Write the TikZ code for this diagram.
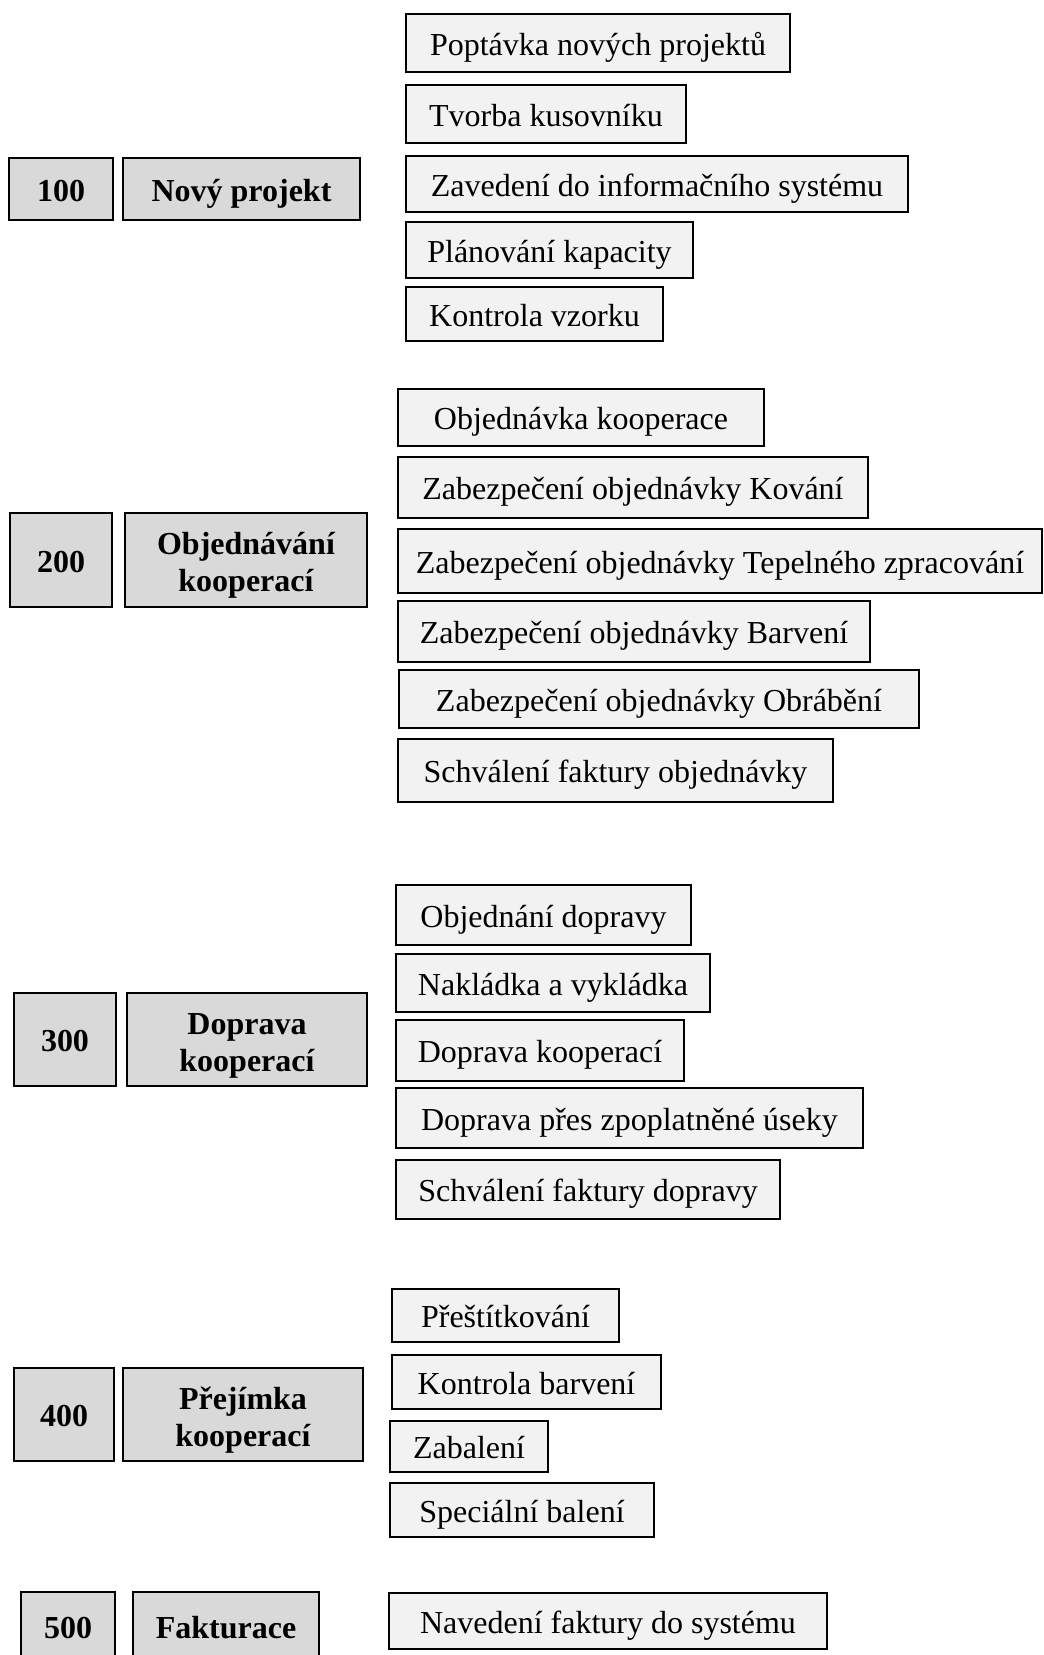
\documentclass[tikz,border=0pt]{standalone}
\usepackage{fontspec}
\setmainfont{Liberation Serif}
\definecolor{hdrfill}{HTML}{D9D9D9}
\definecolor{taskfill}{HTML}{F2F2F2}
\newcommand\boxfont{\fontsize{32}{37}\selectfont}
\newcommand\topstrut{\rule{0pt}{33pt}}
\tikzset{
  boxbase/.style={draw=black, line width=2.4pt, inner sep=0pt, anchor=center},
  task/.style={boxbase, fill=taskfill, font=\boxfont, text height=30pt, text depth=6pt},
  hdr/.style={boxbase, fill=hdrfill, font=\boxfont\bfseries, align=center},
  oneline/.style={text height=30pt, text depth=6pt},
}
% #1 style, #2 name, #3 left, #4 right, #5 top, #6 bottom, #7 text
\newcommand\procbox[7]{%
  \node[#1, minimum width={#4-#3-2}, minimum height={#6-#5-2}]
    (#2) at ({(#3+#4)/2},{(#5+#6)/2}) {#7};}
\begin{document}
\begin{tikzpicture}[x=1pt, y=-1pt]
  \useasboundingbox (0,0) rectangle (1044,1655);
  \clip (0,0) rectangle (1044,1655);

  % 100 - new project
  \procbox{hdr,oneline}{n100}{8}{114}{157}{221}{100}
  \procbox{hdr,oneline}{h100}{122}{361}{157}{221}{Nový projekt}
  \procbox{task}{a1}{405}{791}{13}{73}{Poptávka nových projektů}
  \procbox{task}{a2}{405}{687}{84}{144}{Tvorba kusovníku}
  \procbox{task}{a3}{405}{909}{155}{213}{Zavedení do informačního systému}
  \procbox{task}{a4}{405}{694}{221}{279}{Plánování kapacity}
  \procbox{task}{a5}{405}{664}{286}{342}{Kontrola vzorku}

  % 200 - ordering of cooperations
  \procbox{hdr,oneline}{n200}{9}{113}{512}{608}{200}
  \procbox{hdr}{h200}{124}{368}{512}{608}{\topstrut Objednávání\\kooperací}
  \procbox{task}{b1}{397}{765}{388}{447}{Objednávka kooperace}
  \procbox{task}{b2}{397}{869}{456}{519}{Zabezpečení objednávky Kování}
  \procbox{task}{b3}{397}{1043}{528}{594}{Zabezpečení objednávky Tepelného zpracování}
  \procbox{task}{b4}{397}{871}{600}{663}{Zabezpečení objednávky Barvení}
  \procbox{task}{b5}{398}{920}{669}{729}{Zabezpečení objednávky Obrábění}
  \procbox{task}{b6}{397}{834}{738}{803}{Schválení faktury objednávky}

  % 300 - transport of cooperations
  \procbox{hdr,oneline}{n300}{13}{117}{992}{1087}{300}
  \procbox{hdr}{h300}{126}{368}{992}{1087}{\topstrut Doprava\\kooperací}
  \procbox{task}{c1}{395}{692}{884}{946}{Objednání dopravy}
  \procbox{task}{c2}{395}{711}{953}{1013}{Nakládka a vykládka}
  \procbox{task}{c3}{395}{685}{1019}{1082}{Doprava kooperací}
  \procbox{task}{c4}{395}{864}{1087}{1149}{Doprava přes zpoplatněné úseky}
  \procbox{task}{c5}{395}{781}{1159}{1220}{Schválení faktury dopravy}

  % 400 - acceptance of cooperations
  \procbox{hdr,oneline}{n400}{13}{115}{1367}{1462}{400}
  \procbox{hdr}{h400}{122}{364}{1367}{1462}{\topstrut Přejímka\\kooperací}
  \procbox{task}{d1}{391}{620}{1288}{1343}{Přeštítkování}
  \procbox{task}{d2}{391}{662}{1354}{1410}{Kontrola barvení}
  \procbox{task}{d3}{389}{549}{1420}{1473}{Zabalení}
  \procbox{task}{d4}{389}{655}{1482}{1538}{Speciální balení}

  % 500 - invoicing
  \procbox{hdr,oneline}{n500}{20}{116}{1591}{1662}{500}
  \procbox{hdr,oneline}{h500}{132}{320}{1591}{1662}{Fakturace}
  \procbox{task}{e1}{388}{828}{1592}{1650}{Navedení faktury do systému}
\end{tikzpicture}
\end{document}
